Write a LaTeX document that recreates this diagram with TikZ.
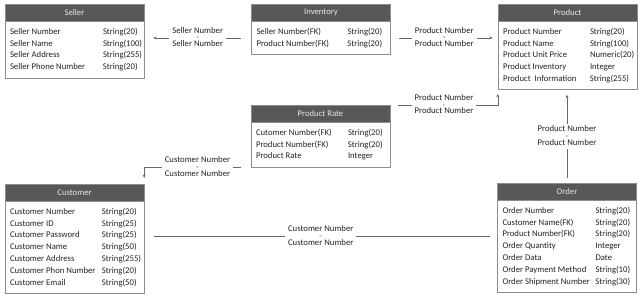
\documentclass[tikz,border=0pt]{standalone}
\usepackage{fontspec}
\setmainfont{Carlito}
\usetikzlibrary{arrows.meta,calc}
\definecolor{headfill}{RGB}{88,88,88}
\definecolor{headtxt}{RGB}{232,232,232}
\definecolor{frame}{RGB}{140,140,140}
\definecolor{linkgray}{RGB}{105,105,105}
\definecolor{ink}{RGB}{35,35,35}
\newcommand{\attrs}[2]{\begin{tabular}{@{}p{#1pt}@{}p{\dimexpr129pt-#1pt\relax}@{}}#2\end{tabular}}
\newcommand{\rel}[1]{\begin{tabular}{@{}c@{}}#1\\[-3.2pt]{\fontsize{5.5}{5.5}\selectfont\color{ink!65}=}\\[-3.2pt]#1\end{tabular}}

\begin{document}
\begin{tikzpicture}[x=1pt,y=-1pt,
  ent head/.style={draw=frame,fill=headfill,text=headtxt,minimum width=139pt,minimum height=17pt,inner sep=0pt,anchor=north,font=\fontsize{8.7}{10}\selectfont},
  ent body/.style={draw=frame,fill=white,inner xsep=5pt,inner ysep=4.5pt,anchor=north,text=ink,font=\fontsize{8.7}{11.8}\selectfont},
  rel/.style={fill=white,inner xsep=3pt,inner ysep=1pt,text=ink,font=\fontsize{8.7}{10}\selectfont},
  conn/.style={draw=linkgray,line width=0.6pt},
  arr/.style={-{Stealth[length=3.5pt,width=3pt]}}]
  \useasboundingbox (0,0) rectangle (643,298);

  \node[ent head] (sellerhead) at (74.5,4) {Seller};
  \node[ent body] (sellerbody) at (sellerhead.south) {\attrs{93}{Seller Number & String(20)\\ Seller Name & String(100)\\ Seller Address & String(255)\\ Seller Phone Number & String(20)}};

  \node[ent head] (invhead) at (321,4) {Inventory};
  \node[ent body] (invbody) at (invhead.south) {\attrs{91}{Seller Number(FK) & String(20)\\ Product Number(FK) & String(20)}};

  \node[ent head] (prodhead) at (567.5,4) {Product};
  \node[ent body] (prodbody) at (prodhead.south) {\attrs{87}{Product Number & String(20)\\ Product Name & String(100)\\ Product Unit Price & Numeric(20)\\ Product Inventory & Integer\\ Product~ Information & String(255)}};

  \node[ent head] (ratehead) at (320.5,105) {Product Rate};
  \node[ent body] (ratebody) at (ratehead.south) {\attrs{92}{Cutomer Number(FK) & String(20)\\ Product Number(FK) & String(20)\\ Product Rate & Integer}};

  \node[ent head] (custhead) at (74.5,184) {Customer};
  \node[ent body] (custbody) at (custhead.south) {\attrs{92}{Customer Number & String(20)\\ Customer ID & String(25)\\ Customer Password & String(25)\\ Customer Name & String(50)\\ Customer Address & String(255)\\ Customer Phon Number & String(20)\\ Customer Email & String(50)}};

  \node[ent head] (ordhead) at (567,183) {Order};
  \node[ent body] (ordbody) at (ordhead.south) {\attrs{93}{Order Number & String(20)\\ Customer Name(FK) & String(20)\\ Product Number(FK) & String(20)\\ Order Quantity & Integer\\ Order Data & Date\\ Order Payment Method & String(10)\\ Order Shipment Number & String(30)}};

  \draw[conn,arr,shorten <=10pt,shorten >=9pt] (invbody.west) -- (invbody.west -| sellerbody.east)
    node[rel,midway] {\rel{Seller Number}};
  \draw[conn,arr,shorten <=8pt,shorten >=5pt] (invbody.east) -- (invbody.east -| prodbody.west)
    node[rel,midway] {\rel{Product Number}};
  \draw[conn,arr,shorten <=8pt,shorten >=4pt] (ratehead.north east) -- (ratehead.north east -| prodbody.south west)
    node[rel,midway] {\rel{Product Number}} -- (prodbody.south west);
  \draw[conn,arr,shorten <=5pt,shorten >=5pt] (ordhead.north) -- (ordhead.north |- prodbody.south)
    node[rel,midway] {\rel{Product Number}};
  \draw[conn,arr,shorten <=10pt,shorten >=6pt] (ratebody.south west) -| (custhead.north east)
    node[rel,pos=0.25] {\rel{Customer Number}};
  \coordinate (custlink) at ([yshift=11pt]custbody.east);
  \draw[conn,shorten <=10pt,shorten >=7pt] (custlink) -- (custlink -| ordbody.west)
    node[rel,midway] {\rel{Customer Number}};
\end{tikzpicture}
\end{document}
